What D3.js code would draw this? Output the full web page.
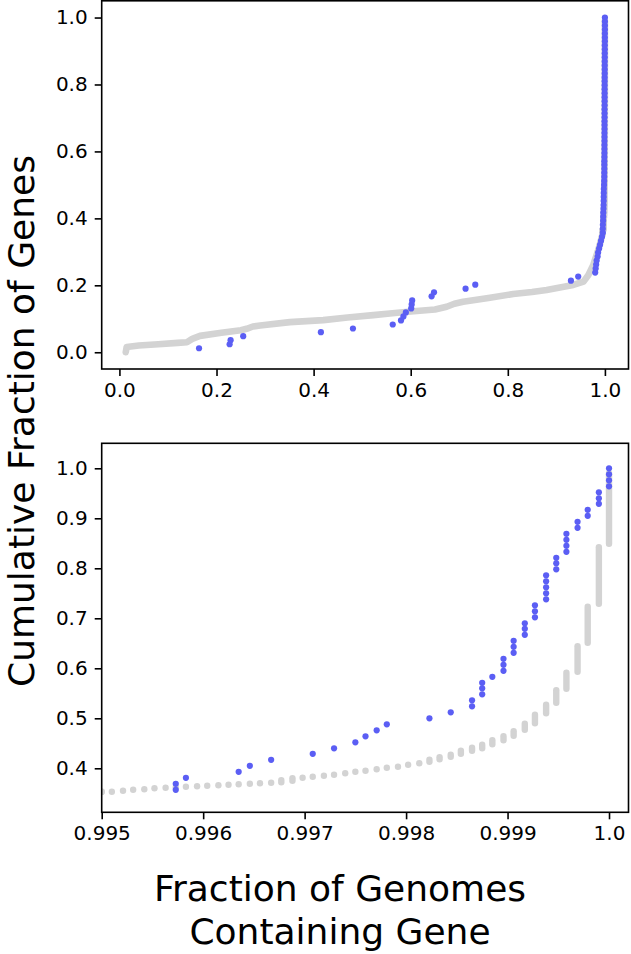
<!DOCTYPE html>
<html><head><meta charset="utf-8">
<script src="https://cdn.jsdelivr.net/npm/d3@7"></script>
<style>html,body{margin:0;padding:0;background:#fff;} svg{display:block;font-family:"DejaVu Sans",sans-serif;}</style>
</head><body>
<script>
// ---- data ----
// top panel: overall gray cumulative curve (x < 0.995)
const topGrayX = [0.013,0.015,0.04,0.08,0.12,0.139,0.150,0.166,0.21,0.250,0.262,0.275,0.290,0.351,0.420,0.470,0.523,0.557,0.600,0.650,0.674,0.690,0.708,0.760,0.811,0.850,0.880,0.910,0.935,0.956,0.966,0.976,0.985,0.990,0.995];
const topGrayY = [0.000,0.016,0.020,0.024,0.028,0.030,0.040,0.049,0.058,0.066,0.070,0.077,0.080,0.090,0.096,0.104,0.111,0.116,0.122,0.128,0.136,0.145,0.151,0.162,0.174,0.180,0.186,0.194,0.201,0.211,0.231,0.261,0.300,0.325,0.353];
// gray columns (x >= 0.995): genome fraction, lowest and highest cumulative fraction
const colX = [0.99500,0.99510,0.99521,0.99531,0.99542,0.99552,0.99563,0.99573,0.99583,0.99594,0.99604,0.99615,0.99625,0.99635,0.99646,0.99656,0.99667,0.99677,0.99688,0.99698,0.99708,0.99719,0.99729,0.99740,0.99750,0.99760,0.99771,0.99781,0.99792,0.99802,0.99813,0.99823,0.99833,0.99844,0.99854,0.99865,0.99875,0.99885,0.99896,0.99906,0.99917,0.99927,0.99938,0.99948,0.99958,0.99969,0.99979,0.99990,1.00000];
const colLow = [0.353,0.353,0.355,0.357,0.358,0.360,0.361,0.362,0.363,0.364,0.365,0.366,0.367,0.368,0.369,0.370,0.371,0.372,0.375,0.381,0.383,0.385,0.387,0.390,0.393,0.395,0.398,0.401,0.403,0.407,0.410,0.413,0.418,0.423,0.429,0.435,0.440,0.448,0.456,0.465,0.477,0.490,0.510,0.531,0.559,0.593,0.651,0.729,0.849];
const colHigh = [0.353,0.353,0.355,0.357,0.358,0.360,0.361,0.362,0.363,0.364,0.365,0.366,0.367,0.368,0.369,0.370,0.371,0.376,0.380,0.381,0.383,0.385,0.387,0.390,0.393,0.395,0.398,0.401,0.403,0.407,0.410,0.417,0.422,0.427,0.435,0.441,0.447,0.456,0.464,0.474,0.489,0.507,0.527,0.556,0.591,0.644,0.723,0.842,0.990];
// blue highlighted genes
const blueX = [0.164,0.227,0.229,0.255,0.415,0.481,0.563,0.580,0.585,0.590,0.601,0.602,0.603,0.643,0.648,0.713,0.733,0.930,0.945,
  0.980,0.981,0.982,0.983,0.985,0.986,0.988,0.990,0.992,0.994,
  0.99573,0.99573,0.99583,0.99635,0.99646,0.99667,0.99708,0.99729,0.99750,0.99760,0.99771,0.99781,
  0.99823,0.99844,0.99865,0.99865,0.99875,0.99875,0.99875,0.99885,0.99896,0.99896,0.99896,
  0.99906,0.99906,0.99906,0.99917,0.99917,0.99917,0.99927,0.99927,0.99927,
  0.99938,0.99938,0.99938,0.99938,0.99938,0.99948,0.99948,0.99948,
  0.99958,0.99958,0.99958,0.99958,0.99969,0.99969,0.99979,0.99979,0.99990,0.99990,0.99990,
  1.0,1.0,1.0,1.0];
const blueY = [0.012,0.024,0.036,0.048,0.060,0.071,0.083,0.095,0.107,0.119,0.131,0.143,0.155,0.167,0.179,0.190,0.202,0.214,0.226,
  0.238,0.250,0.262,0.274,0.286,0.298,0.310,0.321,0.333,0.345,
  0.357,0.369,0.381,0.393,0.405,0.417,0.429,0.440,0.452,0.464,0.476,0.488,
  0.500,0.512,0.524,0.536,0.548,0.560,0.571,0.583,0.595,0.607,0.619,
  0.631,0.643,0.655,0.667,0.679,0.690,0.702,0.714,0.726,
  0.738,0.750,0.762,0.774,0.786,0.798,0.810,0.821,
  0.833,0.845,0.857,0.869,0.881,0.893,0.905,0.917,0.929,0.940,0.952,
  0.964,0.976,0.988,1.000];
const topXTicks = [0,0.2,0.4,0.6,0.8,1.0];
const topXLabels = ["0.0","0.2","0.4","0.6","0.8","1.0"];
const topYTicks = [0,0.2,0.4,0.6,0.8,1.0];
const topYLabels = ["0.0","0.2","0.4","0.6","0.8","1.0"];
const botXTicks = [0.995,0.996,0.997,0.998,0.999,1.0];
const botXLabels = ["0.995","0.996","0.997","0.998","0.999","1.0"];
const botYTicks = [0.4,0.5,0.6,0.7,0.8,0.9,1.0];
const botYLabels = ["0.4","0.5","0.6","0.7","0.8","0.9","1.0"];
const yLabel = "Cumulative Fraction of Genes";
const xLabelLines = ["Fraction of Genomes","Containing Gene"];

// ---- drawing ----
const W = 631, H = 954;
const GRAY = "#d3d3d3", BLUE = "#5b5ef4";
const svg = d3.select("body").append("svg").attr("width", W).attr("height", H);

const L = 101.7, R = 628.5;
const panels = [
  {top: 0.8, bottom: 369, xd: [-0.0365, 1.0486], yd: [-0.05, 1.05], xt: topXTicks, xl: topXLabels, yt: topYTicks, yl: topYLabels, lw: 6.6},
  {top: 443.3, bottom: 812.3, xd: [0.995, 1.000192], yd: [0.312, 1.05], xt: botXTicks, xl: botXLabels, yt: botYTicks, yl: botYLabels, lw: 6.4}
];

panels.forEach((p, i) => {
  const x = d3.scaleLinear().domain(p.xd).range([L, R]);
  const y = d3.scaleLinear().domain(p.yd).range([p.bottom, p.top]);
  const cid = "clip" + i;
  svg.append("clipPath").attr("id", cid).append("rect")
    .attr("x", L).attr("y", p.top).attr("width", R - L).attr("height", p.bottom - p.top);
  const g = svg.append("g").attr("clip-path", `url(#${cid})`);
  const r = p.lw / 2;

  // gray curve
  g.append("path")
    .attr("d", d3.line().x(d => x(d[0])).y(d => y(d[1]))(topGrayX.map((v, j) => [v, topGrayY[j]])))
    .attr("fill", "none").attr("stroke", GRAY).attr("stroke-width", p.lw)
    .attr("stroke-linecap", "round").attr("stroke-linejoin", "round");
  g.selectAll(null).data(colX.map((v, j) => ({x: v, lo: colLow[j], hi: colHigh[j]}))).join("rect")
    .attr("x", d => x(d.x) - r).attr("width", 2 * r)
    .attr("y", d => y(d.hi) - r).attr("height", d => y(d.lo) - y(d.hi) + 2 * r)
    .attr("rx", r).attr("ry", r).attr("fill", GRAY);

  // blue points
  g.selectAll(null).data(blueX.map((v, j) => [v, blueY[j]])).join("circle")
    .attr("cx", d => x(d[0])).attr("cy", d => y(d[1])).attr("r", 3.1).attr("fill", BLUE);

  // axes
  const ax = svg.append("g").attr("transform", `translate(0,${p.bottom})`)
    .call(d3.axisBottom(x).tickValues(p.xt).tickFormat((d, j) => p.xl[j]).tickSize(7).tickPadding(7).tickSizeOuter(0));
  const ay = svg.append("g").attr("transform", `translate(${L},0)`)
    .call(d3.axisLeft(y).tickValues(p.yt).tickFormat((d, j) => p.yl[j]).tickSize(7).tickPadding(7).tickSizeOuter(0));
  [ax, ay].forEach(a => {
    a.select(".domain").remove();
    a.selectAll("line").attr("stroke", "#000").attr("stroke-width", 1.6);
    a.selectAll("text").attr("font-family", "DejaVu Sans").attr("font-size", 20).attr("fill", "#000");
  });
  svg.append("rect").attr("x", L).attr("y", p.top).attr("width", R - L).attr("height", p.bottom - p.top)
    .attr("fill", "none").attr("stroke", "#000").attr("stroke-width", 1.6);
});

// axis titles
svg.append("text").attr("transform", "translate(34,421) rotate(-90)")
  .attr("text-anchor", "middle").attr("font-size", 36).attr("fill", "#000").text(yLabel);
const xt = svg.append("text").attr("text-anchor", "middle").attr("font-size", 36).attr("fill", "#000");
xLabelLines.forEach((s, j) => xt.append("tspan").attr("x", 340).attr("y", 901 + j * 43).text(s));
</script>
</body></html>
